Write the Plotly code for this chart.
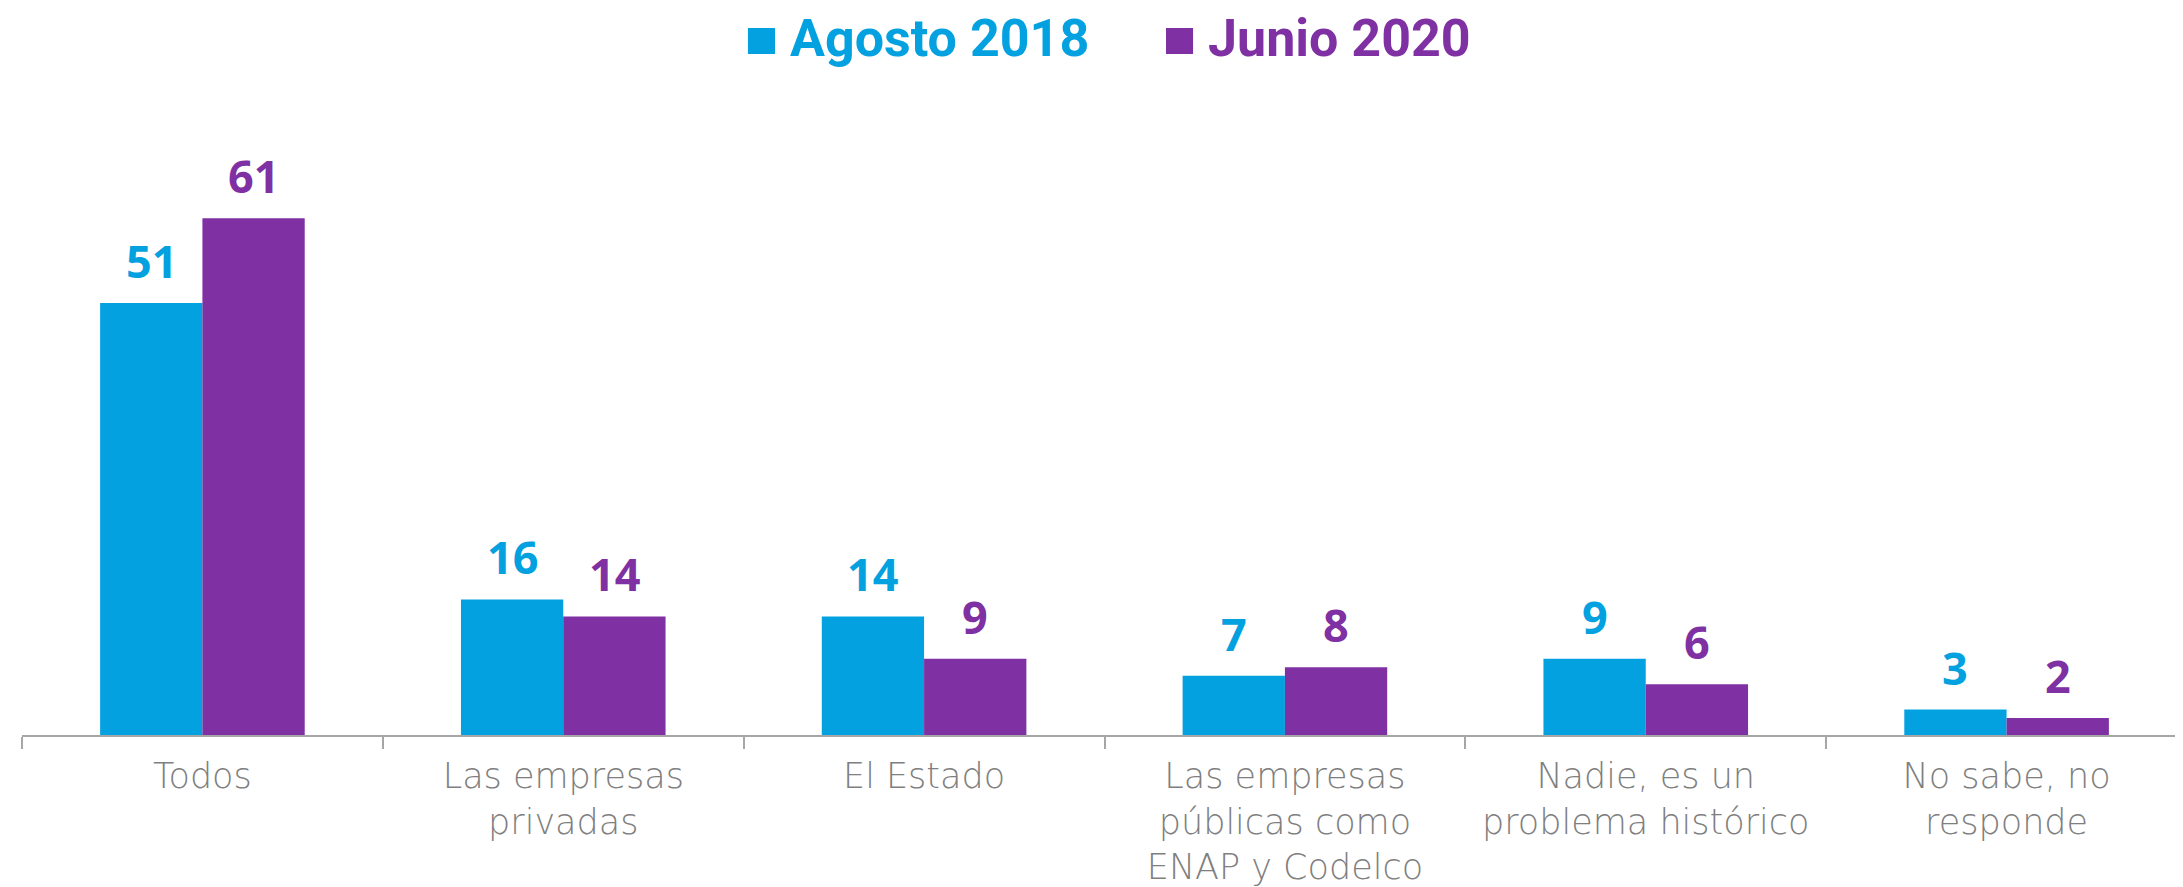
import plotly.graph_objects as go

categories = ["Todos", "Las empresas<br>privadas", "El Estado",
              "Las empresas<br>públicas como<br>ENAP y Codelco",
              "Nadie, es un<br>problema histórico", "No sabe, no<br>responde"]
series_names = ["Agosto 2018", "Junio 2020"]
agosto_2018 = [51, 16, 14, 7, 9, 3]
junio_2020 = [61, 14, 9, 8, 6, 2]

BLUE = "#03A1E0"
PURPLE = "#7F30A3"
BOLD = "Open Sans"

fig = go.Figure()
fig.add_trace(go.Bar(x=categories, y=agosto_2018, name=series_names[0],
                     marker=dict(color=BLUE, line=dict(width=0)), showlegend=False))
fig.add_trace(go.Bar(x=categories, y=junio_2020, name=series_names[1],
                     marker=dict(color=PURPLE, line=dict(width=0)), showlegend=False))

bargap = 0.433
half = (1 - bargap) / 4
for vals, col, off in [(agosto_2018, BLUE, -half), (junio_2020, PURPLE, half)]:
    for i, v in enumerate(vals):
        fig.add_annotation(x=i + off, y=v, xref="x", yref="y", text=str(v),
                           showarrow=False, yanchor="bottom", yshift=10,
                           font=dict(family=BOLD, size=45, color=col, weight=700))

# legend: coloured square + series name
legend_items = [(series_names[0], BLUE, 0.3353, 0.3478, 0.3538),
                (series_names[1], PURPLE, 0.5284, 0.5409, 0.5468)]
for name, col, sx0, sx1, tx in legend_items:
    fig.add_shape(type="rect", xref="paper", yref="paper", x0=sx0, x1=sx1,
                  y0=1.1484, y1=1.1922, fillcolor=col, line=dict(width=0))
    fig.add_annotation(x=tx, y=1.1737, xref="paper", yref="paper", text=name,
                       showarrow=False, xanchor="left", yanchor="middle",
                       font=dict(family="Roboto", size=52, color=col, weight=700))

fig.update_layout(
    width=2183, height=887,
    margin=dict(l=14, r=4, t=134, b=160),
    barmode="group", bargap=bargap, bargroupgap=0,
    plot_bgcolor="white", paper_bgcolor="white",
    xaxis=dict(type="category", showline=True, linecolor="#A6A6A6", linewidth=2,
               ticks="outside", tickson="boundaries", ticklen=12, tickcolor="#A6A6A6",
               tickwidth=1.5, showgrid=False, automargin=False, ticklabelstandoff=9,
               tickfont=dict(family="DejaVu Sans", size=35, color="#7F7F7F", weight=200)),
    yaxis=dict(range=[0, 70], visible=False, showgrid=False, zeroline=False,
               automargin=False),
)

fig.write_html("out.html")
